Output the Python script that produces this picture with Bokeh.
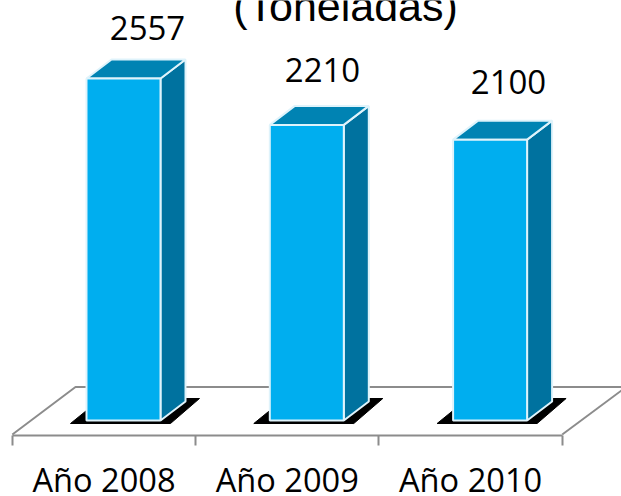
from bokeh.plotting import figure
from bokeh.models import Range1d, LinearAxis, FixedTicker
from bokeh.core.properties import value
from bokeh.embed import file_html
from bokeh.resources import INLINE

categories = ["Año 2008", "Año 2009", "Año 2010"]
values = [2557, 2210, 2100]
title_text = "(Toneladas)"

W, H = 621, 504
PX_X = 183.3          # pixels per category
PX_Y = 0.13375        # pixels per tonne
X0, Y0 = 103.5, 420   # page pixel of category 0 and of value 0
FRAME_BOTTOM = 435

def dx(px):
    return px / PX_X

def dy(px):
    return px / PX_Y

def fx(px):
    return (px - X0) / PX_X

def fy(py):
    return (Y0 - py) / PX_Y

p = figure(width=W, height=H, output_backend="svg", toolbar_location=None,
           x_range=Range1d(fx(0), fx(W)), y_range=Range1d(fy(FRAME_BOTTOM), fy(0)),
           x_axis_location=None, y_axis_location=None,
           min_border_left=0, min_border_right=0, min_border_top=0,
           min_border_bottom=H - FRAME_BOTTOM,
           margin=(0, 0, -8, 0))
p.outline_line_color = None
p.background_fill_color = "white"
p.grid.visible = False

axis = LinearAxis(
    ticker=FixedTicker(ticks=list(range(len(categories))),
                       minor_ticks=[i - 0.5 for i in range(len(categories) + 1)]),
    major_label_overrides={i: c for i, c in enumerate(categories)},
    bounds=(-0.5, len(categories) - 0.5),
    axis_line_color="#8c8c8c", axis_line_width=2,
    major_tick_line_color=None,
    minor_tick_line_color="#8c8c8c", minor_tick_line_width=2,
    minor_tick_in=0, minor_tick_out=10,
    major_label_standoff=11,
    major_label_text_font="Open Sans",
    major_label_text_font_size="32.6px",
    major_label_text_color="#000000",
)
p.add_layout(axis, "below")

# floor
FLOOR = "#8c8c8c"
back_y = fy(386.5)
p.line([-0.5, fx(75), fx(621)], [fy(434), back_y, back_y], line_color=FLOOR, line_width=2)
p.line([2.5, fx(621)], [fy(434), fy(390)], line_color=FLOOR, line_width=2)

# bars
HALF = dx(37)
OFFSET = dx(19.5)
DEPTH_X, DEPTH_Y = dx(25), dy(19)
EDGE = "#dff3fb"
for i, v in enumerate(values):
    l, r = i + OFFSET - HALF, i + OFFSET + HALF
    # shadow
    p.patch([l - dx(16), l, r + dx(25), r + dx(39), r + dx(10), l - dx(16)],
            [dy(-3), dy(10), dy(22), dy(22), dy(-3), dy(-3)],
            fill_color="black", line_color="black", line_width=1)
    # side
    p.patch([r, r + DEPTH_X, r + DEPTH_X, r], [0, DEPTH_Y, v + DEPTH_Y, v],
            fill_color="#00729f", line_color=EDGE, line_width=2)
    # top
    p.patch([l, r, r + DEPTH_X, l + DEPTH_X], [v, v, v + DEPTH_Y, v + DEPTH_Y],
            fill_color="#0083b3", line_color=EDGE, line_width=2)
    # front
    p.patch([l, r, r, l], [0, 0, v, v],
            fill_color="#00aeef", line_color=EDGE, line_width=2)

# value labels
label_x = [147, 322, 508]
label_y = [27, 69, 81]
p.text([fx(x) for x in label_x], [fy(y) for y in label_y], text=[str(v) for v in values],
       text_font=value("Open Sans"), text_font_size="33px", text_color="#000000",
       text_align="center", text_baseline="alphabetic")

# clipped title
p.text([fx(345)], [fy(5)], text=[title_text],
       text_font=value("Liberation Sans"), text_font_size="43px", text_color="#000000",
       text_align="center", text_baseline="alphabetic")

open("out.html", "w").write(file_html(p, INLINE))
